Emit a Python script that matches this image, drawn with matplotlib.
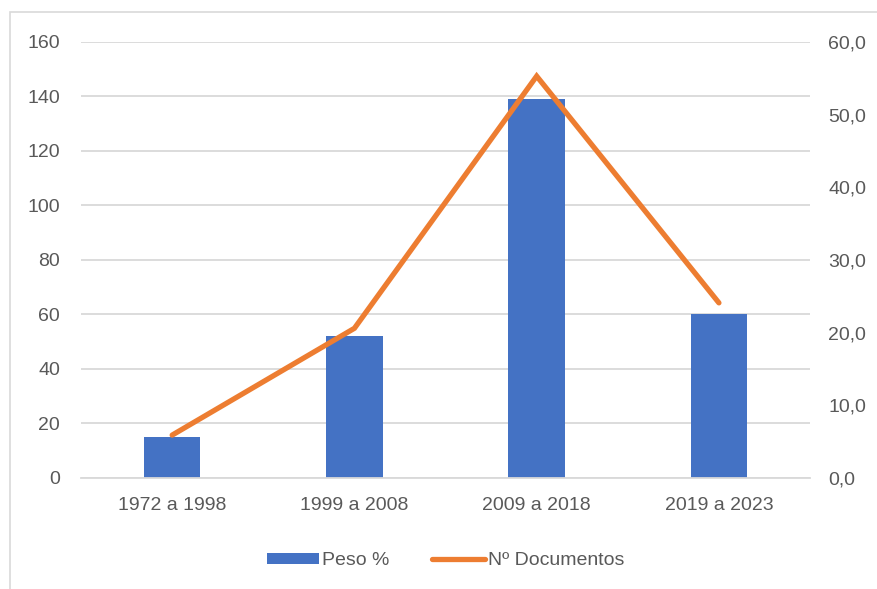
import matplotlib
matplotlib.use("Agg")
import matplotlib.pyplot as plt
from matplotlib.patches import Rectangle
from matplotlib.ticker import FuncFormatter, MultipleLocator

# ---- data ----
periodos = ["1972 a 1998", "1999 a 2008", "2009 a 2018", "2019 a 2023"]
peso = [15, 52, 139, 60]
n_docs = [5.9, 20.6, 55.3, 24.1]

BLUE = "#4472C4"
ORANGE = "#ED7D31"
GRID = "#D9D9D9"
TEXT = "#595959"

plt.rcParams["font.family"] = ["Liberation Sans Narrow", "Liberation Sans", "DejaVu Sans"]
plt.rcParams["font.size"] = 14

fig = plt.figure(figsize=(8.78, 5.89), dpi=100)
ax = fig.add_axes([0.0923, 0.1885, 0.8303, 0.7402])
ax2 = ax.twinx()

x = range(len(periodos))
bars = ax.bar(x, peso, width=0.31, color=BLUE, zorder=2, label="Peso %")
line, = ax2.plot(x, n_docs, color=ORANGE, lw=3.8, solid_capstyle="round",
                 solid_joinstyle="miter", zorder=3, label="Nº Documentos")

ax.set_xlim(-0.5, 3.5)
ax.set_ylim(0, 160)
ax.yaxis.set_major_locator(MultipleLocator(20))
ax2.set_ylim(0, 60)
ax2.yaxis.set_major_locator(MultipleLocator(10))
ax2.yaxis.set_major_formatter(FuncFormatter(lambda v, p: f"{v:.1f}".replace(".", ",")))

ax.set_xticks(list(x))
ax.set_xticklabels(periodos)
ax.grid(axis="y", color=GRID, lw=1.3, zorder=0)
ax.set_axisbelow(True)

for a in (ax, ax2):
    for s in a.spines.values():
        s.set_visible(False)
    a.tick_params(length=0, colors=TEXT, labelsize=14)
ax.spines["bottom"].set_visible(True)
ax.spines["bottom"].set_color(GRID)
ax.spines["bottom"].set_linewidth(1.3)
ax.tick_params(axis="y", pad=15)
ax.tick_params(axis="x", pad=14)
ax2.tick_params(axis="y", pad=13)

ax.legend([bars, line], ["Peso %", "Nº Documentos"], loc="center",
          bbox_to_anchor=(0.5, -0.19), ncol=2, frameon=False,
          handlelength=2.7, handleheight=0.55, columnspacing=2.2,
          handletextpad=0.15, labelcolor=TEXT, fontsize=14)

# outer chart border
fig.patches.append(Rectangle((10 / 878, -0.05), 1.2, 1.05 - 12 / 589,
                             transform=fig.transFigure, fill=False,
                             edgecolor=GRID, lw=1.2))

fig.savefig("out.png", dpi=100)
